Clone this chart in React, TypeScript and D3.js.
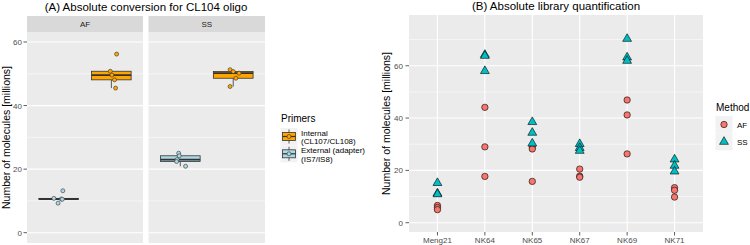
import * as d3 from "d3";

const W = 750;
const H = 245;
const FONT = "'Liberation Sans', Arial, sans-serif";
const PANEL_BG = "#EBEBEB";
const STRIP_BG = "#D9D9D9";
const TICK_COL = "#4D4D4D";

// (A) conversion per primer pair, per method facet
const FACETS = ["AF", "SS"];
const PRIMERS = ["External", "Internal"];
const PRIMER_FILL: Record<string, string> = { Internal: "#FFA500", External: "#ADD8E6" };
const PRIMER_LEGEND = [
  { key: "Internal", lines: ["Internal", "(CL107/CL108)"] },
  { key: "External", lines: ["External (adapter)", "(IS7/IS8)"] },
];
const AF_EXTERNAL = [13.2, 10.8, 10.6, 9.3, 10.5];
const AF_EXTERNAL_JIT = [0.08, -0.09, 0.05, -0.01, 0.07];
const AF_INTERNAL = [56.2, 50.8, 49.6, 48.1, 45.5];
const AF_INTERNAL_JIT = [0.1, -0.02, 0.01, 0.06, 0.08];
const SS_EXTERNAL = [25.0, 24.2, 23.0, 22.4, 20.9];
const SS_EXTERNAL_JIT = [-0.03, -0.02, -0.06, -0.07, 0.1];
const SS_INTERNAL = [51.3, 50.7, 50.2, 48.6, 46.0];
const SS_INTERNAL_JIT = [-0.06, 0.0, 0.11, 0.05, -0.06];
const A_TICKS = [0, 20, 40, 60];
const A_MINOR = [10, 30, 50];

const A_DATA: Record<string, Record<string, { v: number[]; j: number[] }>> = {
  AF: {
    External: { v: AF_EXTERNAL, j: AF_EXTERNAL_JIT },
    Internal: { v: AF_INTERNAL, j: AF_INTERNAL_JIT },
  },
  SS: {
    External: { v: SS_EXTERNAL, j: SS_EXTERNAL_JIT },
    Internal: { v: SS_INTERNAL, j: SS_INTERNAL_JIT },
  },
};

// (B) library quantification
const SAMPLES = ["Meng21", "NK64", "NK65", "NK67", "NK69", "NK71"];
const AF_LIB = [
  [6.6, 5.8, 5.0],
  [44.1, 29.0, 17.7],
  [29.0, 28.2, 15.8],
  [20.5, 17.8, 17.4],
  [46.9, 41.2, 26.3],
  [13.4, 12.4, 9.8],
];
const SS_LIB = [
  [15.2, 11.2, 10.9],
  [64.2, 63.8, 58.0],
  [38.5, 34.4, 30.3],
  [30.1, 28.6, 27.5],
  [70.3, 63.2, 61.9],
  [24.2, 21.8, 19.6],
];
const B_TICKS = [0, 20, 40, 60];
const B_MINOR = [10, 30, 50, 70];
const METHOD_FILL: Record<string, string> = { AF: "#F8766D", SS: "#00BFC4" };

function boxStats(values: number[]) {
  const s = [...values].sort(d3.ascending);
  const q1 = d3.quantile(s, 0.25)!;
  const med = d3.quantile(s, 0.5)!;
  const q3 = d3.quantile(s, 0.75)!;
  const iqr = q3 - q1;
  const lo = d3.min(s.filter((v) => v >= q1 - 1.5 * iqr))!;
  const hi = d3.max(s.filter((v) => v <= q3 + 1.5 * iqr))!;
  return { q1, med, q3, lo, hi };
}

const triangle = d3.symbol(d3.symbolTriangle, 34);

function PanelA() {
  const top = 32;
  const bottom = 243;
  const facetX: Record<string, [number, number]> = { AF: [27, 143], SS: [148.5, 265] };
  const y = d3.scaleLinear().domain([-3.24, 63.15]).range([bottom, top]);

  return (
    <g>
      <text x={146} y={11} textAnchor="middle" fontSize={11.5} fill="#000">
        (A) Absolute conversion for CL104 oligo
      </text>
      <text
        transform={`translate(10,${(top + bottom) / 2}) rotate(-90)`}
        textAnchor="middle"
        fontSize={10.5}
        fill="#000"
      >
        Number of molecules [millions]
      </text>
      {A_TICKS.map((t) => (
        <g key={t}>
          <text x={22} y={y(t) + 3} textAnchor="end" fontSize={8} fill={TICK_COL}>
            {t}
          </text>
          <line x1={23.5} x2={27} y1={y(t)} y2={y(t)} stroke="#333" strokeWidth={0.8} />
        </g>
      ))}
      {FACETS.map((f) => {
        const [x0, x1] = facetX[f];
        const x = d3.scalePoint().domain(PRIMERS).range([x0, x1]).padding(0.6);
        const bw = x.step() * 0.75;
        return (
          <g key={f}>
            <rect x={x0} y={16} width={x1 - x0} height={16} fill={STRIP_BG} />
            <text x={(x0 + x1) / 2} y={27} textAnchor="middle" fontSize={8} fill="#1A1A1A">
              {f}
            </text>
            <rect x={x0} y={top} width={x1 - x0} height={bottom - top} fill={PANEL_BG} />
            {A_MINOR.map((t) => (
              <line key={t} x1={x0} x2={x1} y1={y(t)} y2={y(t)} stroke="#fff" strokeWidth={0.55} />
            ))}
            {A_TICKS.map((t) => (
              <line key={t} x1={x0} x2={x1} y1={y(t)} y2={y(t)} stroke="#fff" strokeWidth={1.1} />
            ))}
            {PRIMERS.map((p) => {
              const d = A_DATA[f][p];
              const st = boxStats(d.v);
              const cx = x(p)!;
              return (
                <g key={p}>
                  <line x1={cx} x2={cx} y1={y(st.hi)} y2={y(st.q3)} stroke="#333" strokeWidth={0.8} />
                  <line x1={cx} x2={cx} y1={y(st.q1)} y2={y(st.lo)} stroke="#333" strokeWidth={0.8} />
                  <rect
                    x={cx - bw / 2}
                    y={y(st.q3)}
                    width={bw}
                    height={Math.max(0.1, y(st.q1) - y(st.q3))}
                    fill={PRIMER_FILL[p]}
                    stroke="#333"
                    strokeWidth={0.8}
                  />
                  <line
                    x1={cx - bw / 2}
                    x2={cx + bw / 2}
                    y1={y(st.med)}
                    y2={y(st.med)}
                    stroke="#333"
                    strokeWidth={1.8}
                  />
                  {d.v.map((v, i) => (
                    <circle
                      key={i}
                      cx={cx + d.j[i] * x.step()}
                      cy={y(v)}
                      r={2}
                      fill={PRIMER_FILL[p]}
                      stroke="#333"
                      strokeWidth={0.6}
                    />
                  ))}
                </g>
              );
            })}
          </g>
        );
      })}
      {/* legend */}
      <text x={281} y={122} fontSize={10} fill="#000">
        Primers
      </text>
      {PRIMER_LEGEND.map((item, i) => {
        const ky = 128 + i * 17.3;
        const cx = 289;
        return (
          <g key={item.key}>
            <rect x={280.5} y={ky} width={17} height={17} fill="#F2F2F2" />
            <line x1={cx} x2={cx} y1={ky + 1.5} y2={ky + 15.5} stroke="#333" strokeWidth={0.8} />
            <rect x={282.5} y={ky + 4.5} width={13} height={8} fill={PRIMER_FILL[item.key]} stroke="#333" strokeWidth={0.8} />
            <line x1={282.5} x2={295.5} y1={ky + 8.5} y2={ky + 8.5} stroke="#333" strokeWidth={1.2} />
            <circle cx={cx} cy={ky + 8.5} r={2} fill={PRIMER_FILL[item.key]} stroke="#333" strokeWidth={0.6} />
            {item.lines.map((l, k) => (
              <text key={k} x={301} y={ky + 7.5 + k * 8.7} fontSize={8} fill="#000">
                {l}
              </text>
            ))}
          </g>
        );
      })}
    </g>
  );
}

function PanelB() {
  const left = 409;
  const right = 703;
  const top = 15;
  const bottom = 232;
  const x = d3.scalePoint().domain(SAMPLES).range([left, right]).padding(0.6);
  const y = d3.scaleLinear().domain([-3.55, 79.4]).range([bottom, top]);

  return (
    <g>
      <text x={(left + right) / 2} y={10} textAnchor="middle" fontSize={11.5} fill="#000">
        (B) Absolute library quantification
      </text>
      <text
        transform={`translate(390,${(top + bottom) / 2}) rotate(-90)`}
        textAnchor="middle"
        fontSize={10.5}
        fill="#000"
      >
        Number of molecules [millions]
      </text>
      <rect x={left} y={top} width={right - left} height={bottom - top} fill={PANEL_BG} />
      {B_MINOR.map((t) => (
        <line key={t} x1={left} x2={right} y1={y(t)} y2={y(t)} stroke="#fff" strokeWidth={0.55} />
      ))}
      {B_TICKS.map((t) => (
        <line key={t} x1={left} x2={right} y1={y(t)} y2={y(t)} stroke="#fff" strokeWidth={1.1} />
      ))}
      {SAMPLES.map((s) => (
        <line key={s} x1={x(s)} x2={x(s)} y1={top} y2={bottom} stroke="#fff" strokeWidth={1.1} />
      ))}
      {B_TICKS.map((t) => (
        <g key={t}>
          <text x={403} y={y(t) + 3} textAnchor="end" fontSize={8} fill={TICK_COL}>
            {t}
          </text>
          <line x1={405.5} x2={409} y1={y(t)} y2={y(t)} stroke="#333" strokeWidth={0.8} />
        </g>
      ))}
      {SAMPLES.map((s) => (
        <g key={s}>
          <line x1={x(s)} x2={x(s)} y1={bottom} y2={bottom + 3.5} stroke="#333" strokeWidth={0.8} />
          <text x={x(s)} y={bottom + 11} textAnchor="middle" fontSize={8} fill={TICK_COL}>
            {s}
          </text>
        </g>
      ))}
      {SAMPLES.map((s, i) => (
        <g key={s}>
          {AF_LIB[i].map((v, k) => (
            <circle key={k} cx={x(s)} cy={y(v)} r={3.2} fill={METHOD_FILL.AF} stroke="#000" strokeWidth={0.6} />
          ))}
          {SS_LIB[i].map((v, k) => (
            <path
              key={k}
              d={triangle()!}
              transform={`translate(${x(s)},${y(v)})`}
              fill={METHOD_FILL.SS}
              stroke="#000"
              strokeWidth={0.6}
            />
          ))}
        </g>
      ))}
      {/* legend */}
      <text x={716} y={111} fontSize={10} fill="#000">
        Method
      </text>
      {["AF", "SS"].map((m, i) => {
        const ky = 116 + i * 17.3;
        const cx = 724;
        return (
          <g key={m}>
            <rect x={715.5} y={ky} width={17} height={17} fill="#F2F2F2" />
            {m === "AF" ? (
              <circle cx={cx} cy={ky + 8.5} r={3.2} fill={METHOD_FILL.AF} stroke="#000" strokeWidth={0.6} />
            ) : (
              <path d={triangle()!} transform={`translate(${cx},${ky + 8.5})`} fill={METHOD_FILL.SS} stroke="#000" strokeWidth={0.6} />
            )}
            <text x={737} y={ky + 11.5} fontSize={8} fill="#000">
              {m}
            </text>
          </g>
        );
      })}
    </g>
  );
}

export default function App() {
  return (
    <svg
      width={W}
      height={H}
      style={{ position: "absolute", left: 0, top: 0, background: "#fff" }}
      fontFamily={FONT}
    >
      <rect width={W} height={H} fill="#fff" />
      <PanelA />
      <PanelB />
    </svg>
  );
}
